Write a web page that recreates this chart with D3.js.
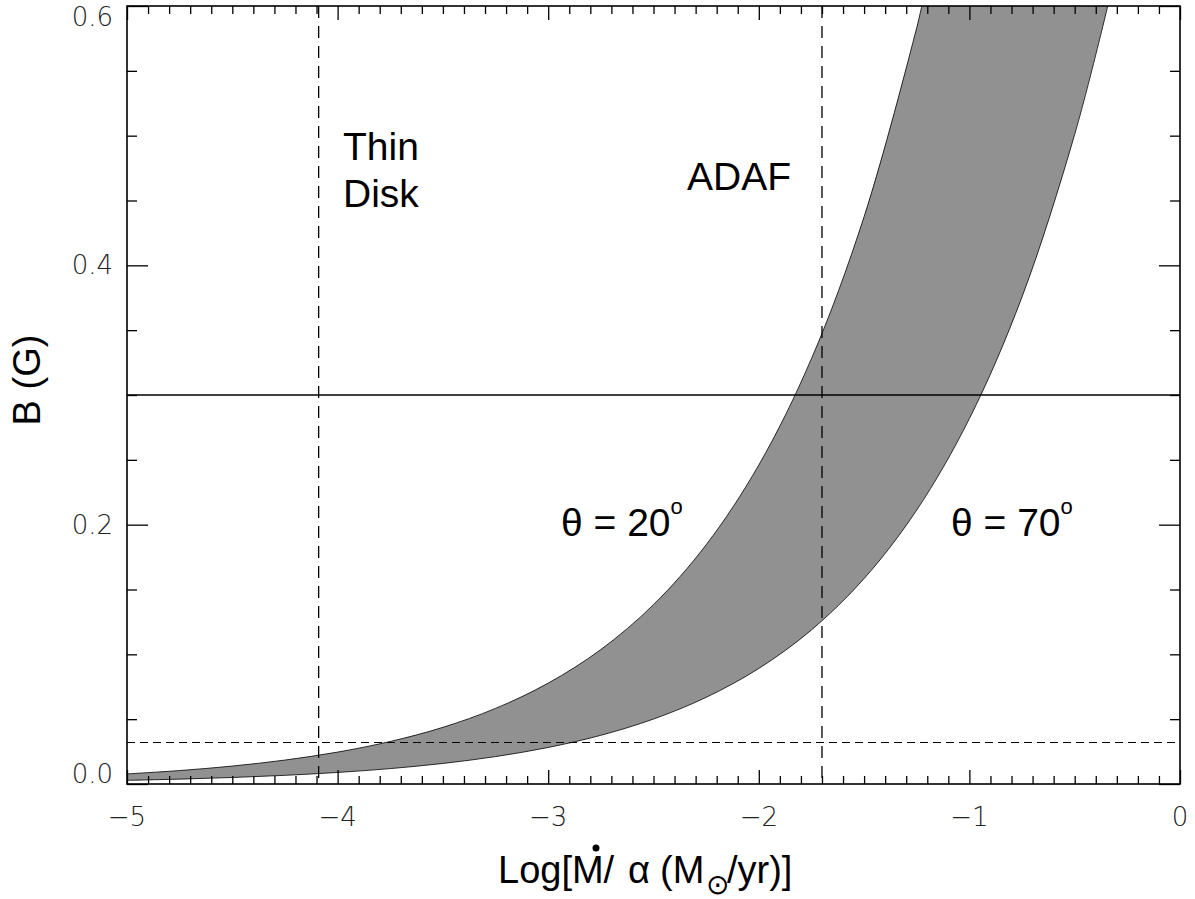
<!DOCTYPE html>
<html><head><meta charset="utf-8">
<script src="https://cdn.jsdelivr.net/npm/d3@7"></script>
<style>
html,body{margin:0;padding:0;background:#fff;}
svg{display:block;}
.tick-label{font-family:"DejaVu Sans",sans-serif;font-weight:200;font-size:26px;fill:#222;}
.ann{font-family:"Liberation Sans",Arial,sans-serif;font-size:39px;fill:#000;}
.ttl{font-family:"Liberation Sans",Arial,sans-serif;font-size:38px;fill:#000;}
</style></head>
<body>
<svg id="chart" width="1195" height="899"></svg>
<script>
// ---- data ----
const xTickValues = [-5, -4, -3, -2, -1, 0];
const xTickLabels = ["\u22125", "\u22124", "\u22123", "\u22122", "\u22121", "0"];
const yTickValues = [0.0, 0.2, 0.4, 0.6];
const yTickLabels = ["0.0", "0.2", "0.4", "0.6"];

// theta = 20 deg curve (upper / left edge of band)
const upperX = [-5, -4.75, -4.5, -4.25, -4, -3.75, -3.5, -3.25, -3, -2.75, -2.5, -2.25, -2, -1.75, -1.5, -1.25, -1.226];
const upperB = [0.00778, 0.01037, 0.01383, 0.01845, 0.0246, 0.0328, 0.0437, 0.0583, 0.0778, 0.1037, 0.1383, 0.1845, 0.246, 0.328, 0.4375, 0.5834, 0.6];
// theta = 70 deg curve (lower / right edge of band)
const lowerX = [-5, -4.75, -4.5, -4.25, -4, -3.75, -3.5, -3.25, -3, -2.75, -2.5, -2.25, -2, -1.75, -1.5, -1.25, -1, -0.75, -0.5, -0.343];
const lowerB = [0.00282, 0.00376, 0.00501, 0.00668, 0.00891, 0.01188, 0.01584, 0.02113, 0.02818, 0.03757, 0.0501, 0.06682, 0.0891, 0.1188, 0.1584, 0.2113, 0.2818, 0.3757, 0.501, 0.6];

const verticalDashed = [-4.09, -1.70];
const horizontalSolid = [0.30];
const horizontalDashed = [0.032];

// ---- layout ----
const svg = d3.select("#chart");
const L = 127, R = 1180, T = 6, B = 784;
const x = d3.scaleLinear().domain([-5, 0]).range([L, R]);
const y = d3.scaleLinear().domain([0, 0.6]).range([B, T]);

// band
const upperPts = upperX.map((v, i) => [v, upperB[i]]);
const lowerPts = lowerX.map((v, i) => [v, lowerB[i]]);
const lineGen = d3.line().x(d => x(d[0])).y(d => y(d[1])).curve(d3.curveCatmullRom.alpha(0.5));
const upPath = lineGen(upperPts);
const lowRevPath = lineGen(lowerPts.slice().reverse());
svg.append("path")
  .attr("d", upPath + "L" + lowRevPath.slice(1) + "Z")
  .attr("fill", "#919191").attr("stroke", "none");
svg.append("path").attr("d", upPath).attr("fill", "none").attr("stroke", "#000").attr("stroke-width", 0.8);
svg.append("path").attr("d", lineGen(lowerPts)).attr("fill", "none").attr("stroke", "#000").attr("stroke-width", 0.8);

// reference lines
svg.selectAll(".vd").data(verticalDashed).enter().append("line")
  .attr("x1", d => x(d)).attr("x2", d => x(d)).attr("y1", y(0.6)).attr("y2", y(0))
  .attr("stroke", "#000").attr("stroke-width", 1.3).attr("stroke-dasharray", "12,8");
svg.selectAll(".hs").data(horizontalSolid).enter().append("line")
  .attr("x1", x(-5)).attr("x2", x(0)).attr("y1", d => y(d)).attr("y2", d => y(d))
  .attr("stroke", "#000").attr("stroke-width", 1.3);
svg.selectAll(".hd").data(horizontalDashed).enter().append("line")
  .attr("x1", x(-5)).attr("x2", x(0)).attr("y1", d => y(d)).attr("y2", d => y(d))
  .attr("stroke", "#000").attr("stroke-width", 1.2).attr("stroke-dasharray", "8,5");

// axes ticks
const xMinor = d3.range(-50, 1).map(d => d / 10).filter(v => !xTickValues.includes(v));
const yMinor = d3.range(0, 13).map(d => d * 0.05).filter(v => !yTickValues.some(t => Math.abs(t - v) < 1e-9));

function tickAxis(axisFn, scale, values, size, translate) {
  const g = svg.append("g").attr("transform", translate)
    .call(axisFn(scale).tickValues(values).tickSize(size).tickFormat(""));
  g.select(".domain").remove();
  g.selectAll(".tick line").attr("stroke", "#000").attr("stroke-width", 1.3);
  return g;
}
tickAxis(d3.axisBottom, x, xMinor, -8, `translate(0,${B})`);
tickAxis(d3.axisBottom, x, xTickValues, -14, `translate(0,${B})`);
tickAxis(d3.axisTop, x, xMinor, -8, `translate(0,${T})`);
tickAxis(d3.axisTop, x, xTickValues, -14, `translate(0,${T})`);
tickAxis(d3.axisLeft, y, yMinor, -10, `translate(${L},0)`);
tickAxis(d3.axisLeft, y, yTickValues, -21, `translate(${L},0)`);
tickAxis(d3.axisRight, y, yMinor, -10, `translate(${R},0)`);
tickAxis(d3.axisRight, y, yTickValues, -21, `translate(${R},0)`);

// frame
svg.append("rect").attr("x", L).attr("y", T).attr("width", R - L).attr("height", B - T)
  .attr("fill", "none").attr("stroke", "#000").attr("stroke-width", 1.6);

// tick labels
svg.selectAll(".xl").data(xTickValues).enter().append("text")
  .attr("class", "tick-label").attr("text-anchor", "middle")
  .attr("x", d => x(d)).attr("y", B + 42)
  .text((d, i) => xTickLabels[i]);
svg.selectAll(".yl").data(yTickValues).enter().append("text")
  .attr("class", "tick-label").attr("text-anchor", "end")
  .attr("x", L - 14)
  .attr("y", d => Math.max(T + 11, Math.min(B - 10, y(d))) + 9)
  .text((d, i) => yTickLabels[i]);

// axis titles
const xt = svg.append("text").attr("class", "ttl").attr("y", 883);
xt.append("tspan").attr("x", 498).text("Log[M/");
xt.append("tspan").attr("x", 628).text("\u03B1");
xt.append("tspan").attr("x", 660).text("(M");
xt.append("tspan").attr("x", 706).attr("dy", 11).attr("font-size", 28).text("\u2299");
xt.append("tspan").attr("x", 727).attr("dy", -11).text("/yr)]");
svg.append("circle").attr("cx", 596).attr("cy", 848).attr("r", 3.5).attr("fill", "#000");

svg.append("text").attr("class", "ttl").attr("text-anchor", "middle")
  .attr("transform", "translate(40,380) rotate(-90)").text("B (G)");

// annotations
svg.append("text").attr("class", "ann").attr("x", 343).attr("y", 160).text("Thin");
svg.append("text").attr("class", "ann").attr("x", 343).attr("y", 207).text("Disk");
svg.append("text").attr("class", "ann").attr("x", 687).attr("y", 190).text("ADAF");

const t1 = svg.append("text").attr("class", "ann").attr("x", 561).attr("y", 536);
t1.append("tspan").text("\u03B8 = 20");
t1.append("tspan").attr("dy", -22).attr("font-size", 22).text("o");
const t2 = svg.append("text").attr("class", "ann").attr("x", 951).attr("y", 536);
t2.append("tspan").text("\u03B8 = 70");
t2.append("tspan").attr("dy", -22).attr("font-size", 22).text("o");
</script>
</body></html>
